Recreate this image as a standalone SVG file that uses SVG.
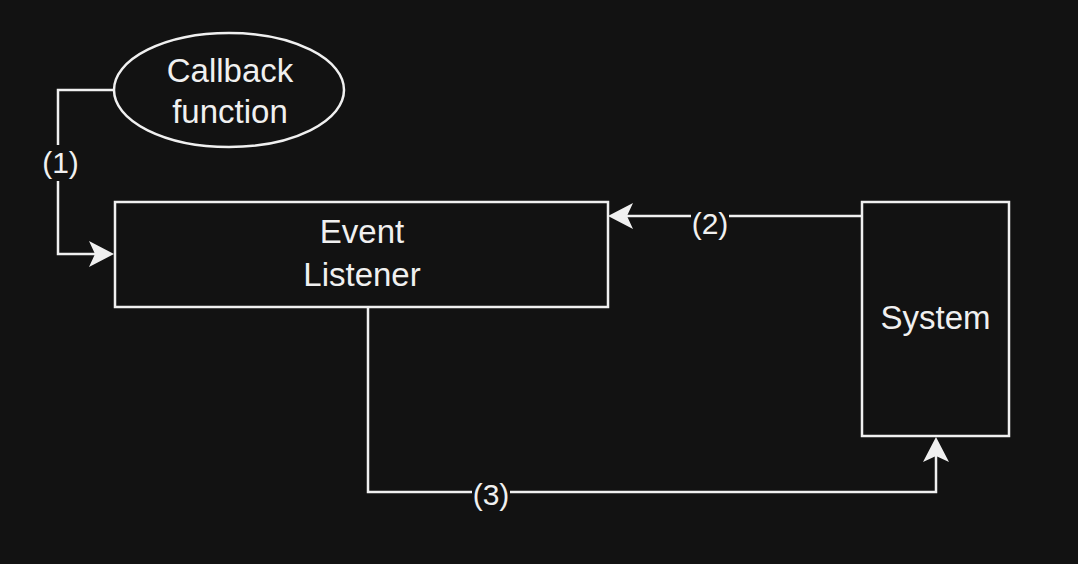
<svg xmlns="http://www.w3.org/2000/svg" width="1078" height="564" viewBox="0 0 1078 564">
<style>
.shape{fill:#121212;stroke:#f0f0f0;stroke-width:2.5}
.edge{fill:none;stroke:#f0f0f0;stroke-width:2.5}
.t{font-family:"Liberation Sans",Arial,sans-serif;font-size:33px;fill:#f0f0f0;text-anchor:middle}
.lbl{font-family:"Liberation Sans",Arial,sans-serif;font-size:30px;fill:#f0f0f0;text-anchor:middle}
.lblbg{fill:#121212}
</style>
<defs>
<marker id="arrow" markerUnits="userSpaceOnUse" markerWidth="26" markerHeight="28" refX="6" refY="13" orient="auto" viewBox="0 0 26 26">
<path d="M25,13 L0,0 L6,13 L0,26 Z" fill="#f0f0f0"/>
</marker>
</defs>
<rect width="1078" height="564" fill="#121212"/>
<g id="connectors">
<g id="edge1">
<path class="edge" d="M113,90 H58 V254 H95" marker-end="url(#arrow)"/>
<rect class="lblbg" x="42" y="145" width="37" height="36"/>
<text class="lbl" x="60.5" y="173">(1)</text>
</g>
<g id="edge2">
<path class="edge" d="M862,216 H627" marker-end="url(#arrow)"/>
<rect class="lblbg" x="691" y="206" width="38" height="34"/>
<text class="lbl" x="710" y="234">(2)</text>
</g>
<g id="edge3">
<path class="edge" d="M368,307 V492 H936 V456" marker-end="url(#arrow)"/>
<rect class="lblbg" x="472" y="478" width="38" height="34"/>
<text class="lbl" x="491" y="505">(3)</text>
</g>
</g>
<g id="callback">
<ellipse class="shape" cx="229" cy="90" rx="115" ry="57"/>
<text class="t" x="230" y="82">Callback</text>
<text class="t" x="230" y="123">function</text>
</g>
<g id="listener">
<rect class="shape" x="115" y="202" width="493" height="105"/>
<text class="t" x="362" y="243">Event</text>
<text class="t" x="362" y="286">Listener</text>
</g>
<g id="system">
<rect class="shape" x="862" y="202" width="147" height="234"/>
<text class="t" x="935.5" y="329">System</text>
</g>
</svg>
